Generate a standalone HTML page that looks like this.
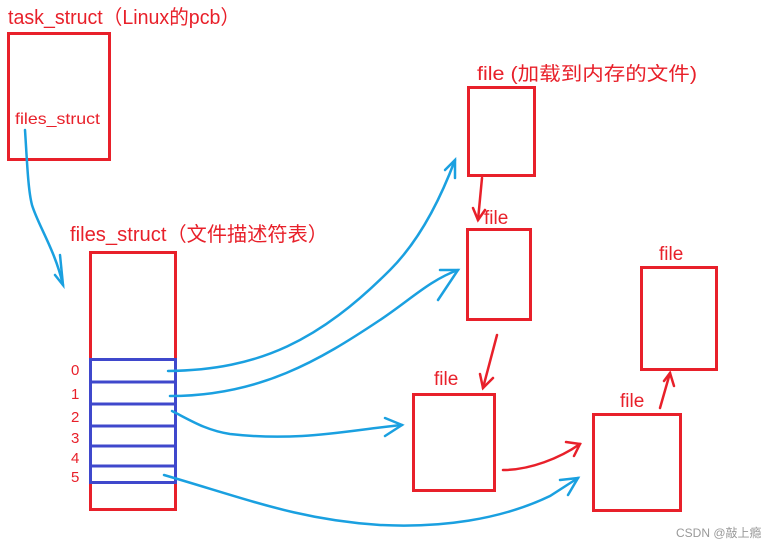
<!DOCTYPE html>
<html><head><meta charset="utf-8"><style>
body{margin:0;background:#fff;width:780px;height:546px;overflow:hidden}
svg{display:block}
text{font-family:"Liberation Sans","Noto Sans CJK SC",sans-serif;fill:#e8202a}
</style></head><body>
<svg width="780" height="546" viewBox="0 0 780 546">
<g fill="none" stroke="#e8202a" stroke-width="3">
<rect x="8.5" y="33.5" width="101" height="126"/>
<rect x="90.5" y="252.5" width="85" height="257"/>
<rect x="468.5" y="87.5" width="66" height="88"/>
<rect x="467.5" y="229.5" width="63" height="90"/>
<rect x="413.5" y="394.5" width="81" height="96"/>
<rect x="593.5" y="414.5" width="87" height="96"/>
<rect x="641.5" y="267.5" width="75" height="102"/>
</g>
<g fill="none" stroke="#3f48cc" stroke-width="3">
<rect x="90.5" y="359.5" width="85" height="123"/>
<line x1="90" y1="382" x2="176" y2="382"/>
<line x1="90" y1="404" x2="176" y2="404"/>
<line x1="90" y1="426" x2="176" y2="426"/>
<line x1="90" y1="446" x2="176" y2="446"/>
<line x1="90" y1="466" x2="176" y2="466"/>
</g>
<text x="8" y="24" font-size="20" textLength="232" lengthAdjust="spacingAndGlyphs">task_struct（Linux的pcb）</text>
<text x="15" y="124" font-size="16" textLength="85" lengthAdjust="spacingAndGlyphs">files_struct</text>
<text x="70" y="241" font-size="20" textLength="258" lengthAdjust="spacingAndGlyphs">files_struct（文件描述符表）</text>
<text x="477" y="80" font-size="19" textLength="220" lengthAdjust="spacingAndGlyphs">file (加载到内存的文件)</text>
<text x="484" y="224" font-size="19">file</text>
<text x="659" y="260" font-size="19">file</text>
<text x="434" y="385" font-size="19">file</text>
<text x="620" y="407" font-size="19">file</text>
<g font-size="15"><text x="71" y="375">0</text><text x="71" y="399">1</text><text x="71" y="422">2</text><text x="71" y="443">3</text><text x="71" y="463">4</text><text x="71" y="482">5</text></g>
<text x="676" y="537" font-size="12" style="fill:#999">CSDN @敲上瘾</text>
<g fill="none" stroke="#1aa0e0" stroke-width="2.5" stroke-linecap="round">
<path d="M25 130 C27 160 28 190 32 205 C38 225 55 250 63 285"/>
<path d="M60 255 L63 285 L55 275"/>
<path d="M168 371 C260 370 320 340 390 270 C420 240 440 200 455 160"/>
<path d="M445 170 L455 160 L455 178"/>
<path d="M170 396 C260 396 320 360 380 320 C410 300 430 280 458 270"/>
<path d="M440 270 L458 270 L438 300"/>
<path d="M172 411 C190 420 205 430 230 434 C300 442 350 430 402 425"/>
<path d="M385 418 L402 425 L385 436"/>
<path d="M164 475 C250 500 300 520 380 525 C440 528 500 520 550 496 L578 478"/>
<path d="M560 480 L578 478 L568 495"/>
</g>
<g fill="none" stroke="#e8202a" stroke-width="2.5" stroke-linecap="round">
<path d="M482 178 L478 220"/><path d="M473 208 L478 220 L485 210"/>
<path d="M497 335 L483 388"/><path d="M480 374 L483 388 L493 378"/>
<path d="M503 470 C530 470 560 458 580 444"/><path d="M566 442 L580 444 L574 456"/>
<path d="M660 408 L670 373"/><path d="M664 381 L670 373 L674 386"/>
</g>
</svg>
</body></html>
